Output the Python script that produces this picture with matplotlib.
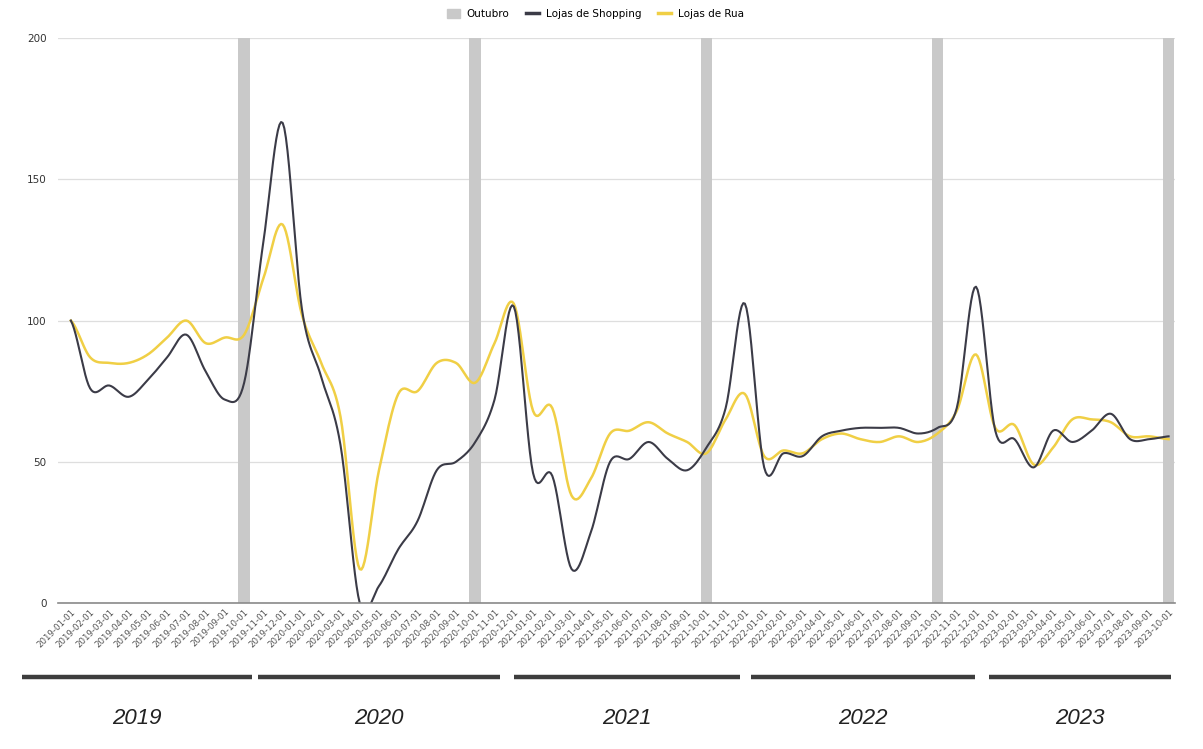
import numpy as np
import pandas as pd
import matplotlib
matplotlib.use("Agg")
import matplotlib.pyplot as plt
from matplotlib.patches import Patch
from matplotlib.lines import Line2D

# monthly index, Jan 2019 = 100
months = pd.date_range("2019-01-01", "2023-10-01", freq="MS")
month_labels = [d.strftime("%Y-%m-%d") for d in months]

shopping = [100, 76, 77, 73, 79, 87, 95, 82, 72, 78, 128, 170,
            104, 80, 56, 0, 6, 19, 29, 47, 50, 57, 72, 105,
            46, 45, 12, 25, 50, 51, 57, 51, 47, 55, 69, 106,
            48, 53, 52, 59, 61, 62, 62, 62, 60, 62, 69, 112,
            61, 58, 48, 61, 57, 61, 67, 58, 58, 59]

rua = [100, 87, 85, 85, 88, 94, 100, 92, 94, 95, 115, 134,
       102, 85, 66, 12, 47, 74, 75, 85, 85, 78, 92, 106,
       68, 69, 38, 44, 60, 61, 64, 60, 57, 53, 65, 74,
       52, 54, 53, 58, 60, 58, 57, 59, 57, 60, 68, 88,
       62, 63, 49, 55, 65, 65, 64, 59, 59, 58]

october_idx = [i for i, d in enumerate(months) if d.month == 10]
years = ["2019", "2020", "2021", "2022", "2023"]
year_spans = [(-2.55, 9.4), (9.7, 22.3), (23.0, 34.75), (35.3, 46.95), (47.7, 57.1)]

C_SHOP = "#3b3b47"
C_RUA = "#f0cf45"
C_OCT = "#c9c9c9"


def smooth(y, n=12):
    # catmull-rom curve through the monthly points (smoothed line style)
    y = np.asarray(y, float)
    p = np.concatenate([[y[0]], y, [y[-1]]])
    xs, ys = [], []
    t = np.linspace(0, 1, n, endpoint=False)
    for i in range(len(y) - 1):
        p0, p1, p2, p3 = p[i], p[i + 1], p[i + 2], p[i + 3]
        ys.append(0.5 * (2 * p1 + (-p0 + p2) * t
                         + (2 * p0 - 5 * p1 + 4 * p2 - p3) * t ** 2
                         + (-p0 + 3 * p1 - 3 * p2 + p3) * t ** 3))
        xs.append(i + t)
    xs.append([len(y) - 1])
    ys.append([y[-1]])
    return np.concatenate(xs), np.concatenate(ys)


fig = plt.figure(figsize=(12.03, 7.49), dpi=100)
ax = fig.add_axes([0.048, 0.195, 0.929, 0.754])

for i in october_idx:
    ax.axvspan(i - 0.3, i + 0.3, color=C_OCT, lw=0, zorder=1)

x, y = smooth(shopping)
ax.plot(x, y, color=C_SHOP, lw=1.5, zorder=3)
x, y = smooth(rua)
ax.plot(x, y, color=C_RUA, lw=1.8, zorder=2)

ax.set_xlim(-0.68, 57.35)
ax.set_ylim(0, 200)
ax.set_yticks([0, 50, 100, 150, 200])
ax.yaxis.grid(True, color="#dedede", lw=0.9)
ax.set_axisbelow(True)
for s in ["top", "right", "left"]:
    ax.spines[s].set_visible(False)
ax.spines["bottom"].set_color("#8a8a8a")
ax.spines["bottom"].set_linewidth(1.2)
ax.spines["bottom"].set_zorder(4)
ax.tick_params(axis="y", length=0, pad=8, labelsize=7.5, labelcolor="#333333")
ax.tick_params(axis="x", length=0, pad=3, labelsize=6.2, labelcolor="#555555")
ax.set_xticks(range(len(months)))
ax.set_xticklabels(month_labels, rotation=45, ha="right", rotation_mode="anchor")

# year brackets under the month labels
trans = ax.get_xaxis_transform()
for yr, (a, b) in zip(years, year_spans):
    ax.plot([a, b], [-0.131, -0.131], color="#3d3d3d", lw=3.2,
            transform=trans, clip_on=False, solid_capstyle="butt")
    ax.text((a + b) / 2, -0.204, yr, transform=trans, ha="center", va="center",
            fontsize=16, style="italic", color="#222222",
            family=["Liberation Sans", "DejaVu Sans"])

handles = [Patch(color=C_OCT, label="Outubro"),
           Line2D([], [], color=C_SHOP, lw=2.5, label="Lojas de Shopping"),
           Line2D([], [], color=C_RUA, lw=2.5, label="Lojas de Rua")]
fig.legend(handles=handles, loc="center", bbox_to_anchor=(0.495, 0.981), ncol=3,
           frameon=False, fontsize=7.5, handlelength=1.2, handleheight=1.0,
           columnspacing=1.6, handletextpad=0.7)

fig.savefig("out.png", dpi=100)
